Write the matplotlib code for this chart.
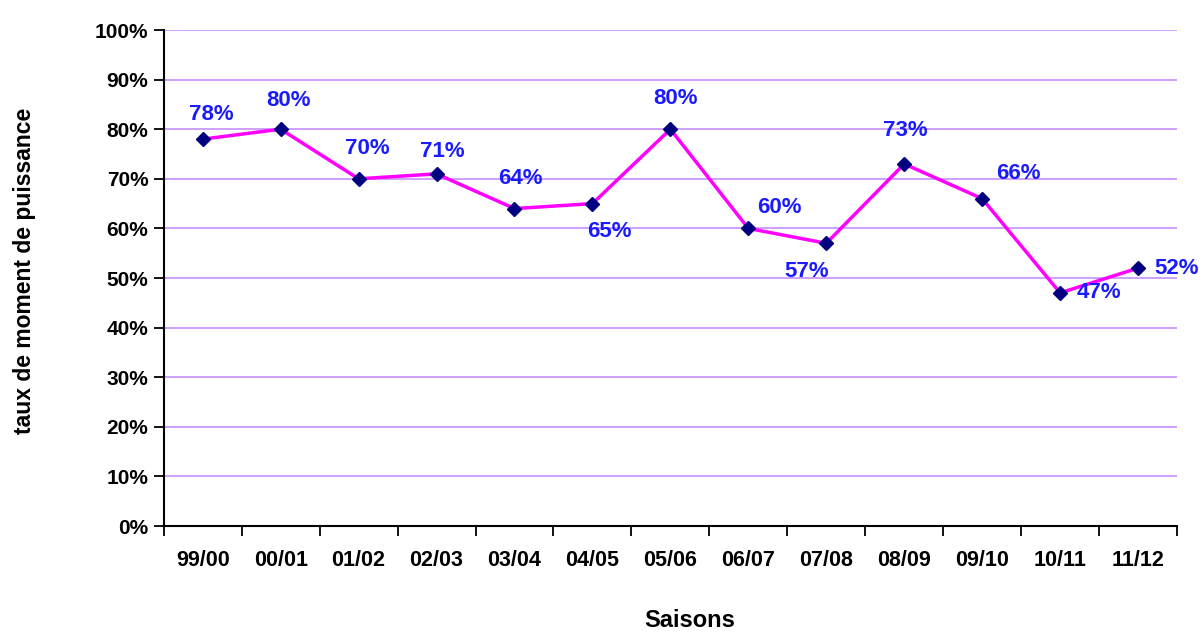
import matplotlib.pyplot as plt
import numpy as np

plt.rcParams['font.family'] = ['Liberation Sans', 'DejaVu Sans']

saisons = ["99/00", "00/01", "01/02", "02/03", "03/04", "04/05", "05/06",
           "06/07", "07/08", "08/09", "09/10", "10/11", "11/12"]
taux = [78, 80, 70, 71, 64, 65, 80, 60, 57, 73, 66, 47, 52]

# label offsets in points (dx, dy) relative to the marker
offsets = [(6, 18), (6, 21), (6, 22), (4, 16), (4, 22), (12, -20), (4, 22),
           (22, 15), (-14, -20), (1, 24), (26, 18), (28, 0), (28, 0)]

fig = plt.figure(figsize=(12.04, 6.33), dpi=100)
ax = fig.add_axes([0.136, 0.169, 0.8416, 0.7836])

x = np.arange(len(saisons))
ax.plot(x, taux, color='#ff00ff', lw=2.5, zorder=3)
ax.plot(x, taux, ls='none', marker='D', ms=7, color='#000080', zorder=4)

for xi, v, (dx, dy) in zip(x, taux, offsets):
    ax.annotate(f"{v}%", (xi, v), xytext=(dx, dy), textcoords='offset points',
                ha='center', va='center', color='#1a1aff', fontsize=16,
                fontweight='bold', zorder=5)

ax.set_xlim(-0.5, len(saisons) - 0.5)
ax.set_ylim(0, 100)
ax.set_yticks(range(0, 101, 10))
ax.set_yticklabels([f"{t}%" for t in range(0, 101, 10)])
ax.set_xticks(x)
ax.set_xticklabels(saisons)
ax.set_xticks(np.arange(-0.5, len(saisons)), minor=True)
ax.tick_params(axis='x', which='major', length=0, pad=17)
ax.tick_params(axis='x', which='minor', length=7, width=1.3, color='black')
ax.tick_params(axis='y', length=7, width=1.3, pad=4)
for lab in ax.get_yticklabels():
    lab.set_fontsize(15)
    lab.set_fontweight('bold')
for lab in ax.get_xticklabels():
    lab.set_fontsize(15.5)
    lab.set_fontweight('bold')

ax.grid(axis='y', color='#cc99ff', lw=1.3, zorder=1)
ax.set_axisbelow(True)
for s in ['top', 'right']:
    ax.spines[s].set_visible(False)
for s in ['left', 'bottom']:
    ax.spines[s].set_linewidth(1.5)

fig.text(0.02, 0.572, "taux de moment de puissance", rotation=90,
         ha='center', va='center', fontsize=16.5, fontweight='bold')
fig.text(0.573, 0.019, "Saisons", ha='center', va='center',
         fontsize=17, fontweight='bold')

fig.savefig("out.png", dpi=100)
